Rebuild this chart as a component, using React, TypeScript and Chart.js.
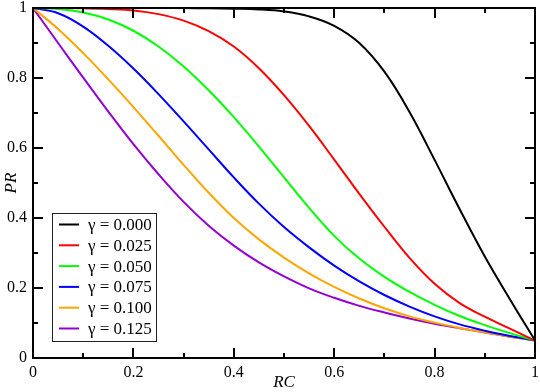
import React, { useEffect, useRef } from "react";
import { Chart, registerables } from "chart.js";

Chart.register(...registerables);

const RC = [0, 0.05, 0.1, 0.15, 0.2, 0.25, 0.3, 0.35, 0.4, 0.45, 0.5, 0.55, 0.6, 0.65, 0.7, 0.75, 0.8, 0.85, 0.9, 0.95, 1];

const PR_000 = [1, 1, 1, 1, 1, 1, 1, 0.999, 0.998, 0.996, 0.99, 0.976, 0.949, 0.9, 0.818, 0.703, 0.566, 0.425, 0.29, 0.168, 0.05];
const PR_025 = [1, 1, 0.9995, 0.997, 0.993, 0.9825, 0.964, 0.934, 0.89, 0.828, 0.751, 0.663, 0.567, 0.469, 0.375, 0.286, 0.212, 0.157, 0.118, 0.084, 0.05];
const PR_050 = [1, 0.997, 0.987, 0.967, 0.935, 0.89, 0.833, 0.765, 0.688, 0.604, 0.516, 0.429, 0.349, 0.284, 0.232, 0.189, 0.152, 0.12, 0.094, 0.071, 0.05];
const PR_075 = [1, 0.985, 0.947, 0.892, 0.827, 0.754, 0.676, 0.596, 0.516, 0.441, 0.374, 0.316, 0.264, 0.219, 0.18, 0.147, 0.119, 0.096, 0.078, 0.063, 0.05];
const PR_100 = [1, 0.94, 0.871, 0.796, 0.717, 0.635, 0.552, 0.472, 0.4, 0.339, 0.287, 0.242, 0.203, 0.17, 0.142, 0.119, 0.101, 0.086, 0.073, 0.061, 0.05];
const PR_125 = [1, 0.9, 0.801, 0.704, 0.611, 0.525, 0.446, 0.378, 0.321, 0.273, 0.233, 0.199, 0.172, 0.149, 0.13, 0.113, 0.098, 0.085, 0.073, 0.061, 0.05];

const SERIES_LABELS = ["γ = 0.000", "γ = 0.025", "γ = 0.050", "γ = 0.075", "γ = 0.100", "γ = 0.125"];
const SERIES_VALUES = [PR_000, PR_025, PR_050, PR_075, PR_100, PR_125];
const SERIES_COLORS = ["#000000", "#ff0000", "#00ff00", "#0000ff", "#ffa500", "#9400d3"];

const X_TITLE = "RC";
const Y_TITLE = "PR";

const SERIF = "'Liberation Serif', 'DejaVu Serif', serif";

const fmt = (v: any) => String(Number(Number(v).toFixed(1)));

const framePlugin = {
  id: "framePlugin",
  afterDatasetsDraw(chart: any) {
    const { ctx, chartArea, scales } = chart;
    const { left, right, top, bottom } = chartArea;
    const xs = scales.x;
    const ys = scales.y;
    ctx.save();
    ctx.strokeStyle = "#000";
    ctx.lineWidth = 2;
    ctx.strokeRect(left, top, right - left, bottom - top);
    for (let i = 1; i < 10; i++) {
      const v = i / 10;
      const len = i % 2 === 0 ? 10 : 5;
      const px = Math.round(xs.getPixelForValue(v));
      const py = Math.round(ys.getPixelForValue(v));
      ctx.beginPath();
      ctx.moveTo(px, bottom);
      ctx.lineTo(px, bottom - len);
      ctx.moveTo(px, top);
      ctx.lineTo(px, top + len);
      ctx.moveTo(left, py);
      ctx.lineTo(left + len, py);
      ctx.moveTo(right, py);
      ctx.lineTo(right - len, py);
      ctx.stroke();
    }
    // axis titles
    ctx.fillStyle = "#000";
    ctx.font = `italic 17px ${SERIF}`;
    ctx.textAlign = "center";
    ctx.textBaseline = "middle";
    ctx.fillText(X_TITLE, (left + right) / 2, 383);
    ctx.save();
    ctx.translate(12, (top + bottom) / 2);
    ctx.rotate(-Math.PI / 2);
    ctx.fillText(Y_TITLE, 0, 0);
    ctx.restore();
    // legend
    const bx = 52.5, by = 213.5, bw = 104, bh = 128;
    ctx.fillStyle = "#fff";
    ctx.fillRect(bx, by, bw, bh);
    ctx.lineWidth = 1;
    ctx.strokeStyle = "#222";
    ctx.strokeRect(bx, by, bw, bh);
    ctx.font = `17px ${SERIF}`;
    ctx.textAlign = "left";
    for (let i = 0; i < SERIES_LABELS.length; i++) {
      const yy = 224.5 + i * 20.8;
      ctx.strokeStyle = SERIES_COLORS[i];
      ctx.lineWidth = 2;
      ctx.beginPath();
      ctx.moveTo(59, yy);
      ctx.lineTo(79, yy);
      ctx.stroke();
      ctx.fillStyle = "#000";
      ctx.fillText(SERIES_LABELS[i], 88, yy + 1);
    }
    ctx.restore();
  },
};

export default function App() {
  const ref = useRef<HTMLCanvasElement | null>(null);
  useEffect(() => {
    if (!ref.current) return;
    const chart = new Chart(ref.current, {
      type: "line",
      data: {
        datasets: SERIES_VALUES.map((vals, i) => ({
          label: SERIES_LABELS[i],
          data: RC.map((x, j) => ({ x, y: vals[j] })),
          borderColor: SERIES_COLORS[i],
          backgroundColor: SERIES_COLORS[i],
          borderWidth: 2,
          pointRadius: 0,
          fill: false,
          tension: 0.4,
        })),
      },
      options: {
        responsive: false,
        maintainAspectRatio: false,
        animation: false,
        layout: { padding: { left: 0, right: 5, top: 8, bottom: 0 } },
        plugins: {
          legend: { display: false },
          tooltip: { enabled: false },
        },
        scales: {
          x: {
            type: "linear",
            min: 0,
            max: 1,
            border: { display: false },
            grid: { display: false, drawTicks: false },
            ticks: {
              stepSize: 0.2,
              padding: 5,
              color: "#000",
              font: { family: SERIF, size: 16 },
              maxRotation: 0,
              callback: fmt,
            },
            afterFit: (s: any) => {
              s.height = 34;
              s.paddingLeft = 0;
              s.paddingRight = 0;
            },
          },
          y: {
            type: "linear",
            min: 0,
            max: 1,
            border: { display: false },
            grid: { display: false, drawTicks: false },
            ticks: {
              stepSize: 0.2,
              padding: 6,
              color: "#000",
              font: { family: SERIF, size: 16 },
              callback: fmt,
            },
            afterFit: (s: any) => {
              s.width = 33;
              s.paddingTop = 0;
              s.paddingBottom = 0;
            },
          },
        },
      },
      plugins: [framePlugin],
    });
    return () => chart.destroy();
  }, []);
  return (
    <div style={{ position: "fixed", left: 0, top: 0, width: 540, height: 392, background: "#fff" }}>
      <canvas ref={ref} width={540} height={392} />
    </div>
  );
}
